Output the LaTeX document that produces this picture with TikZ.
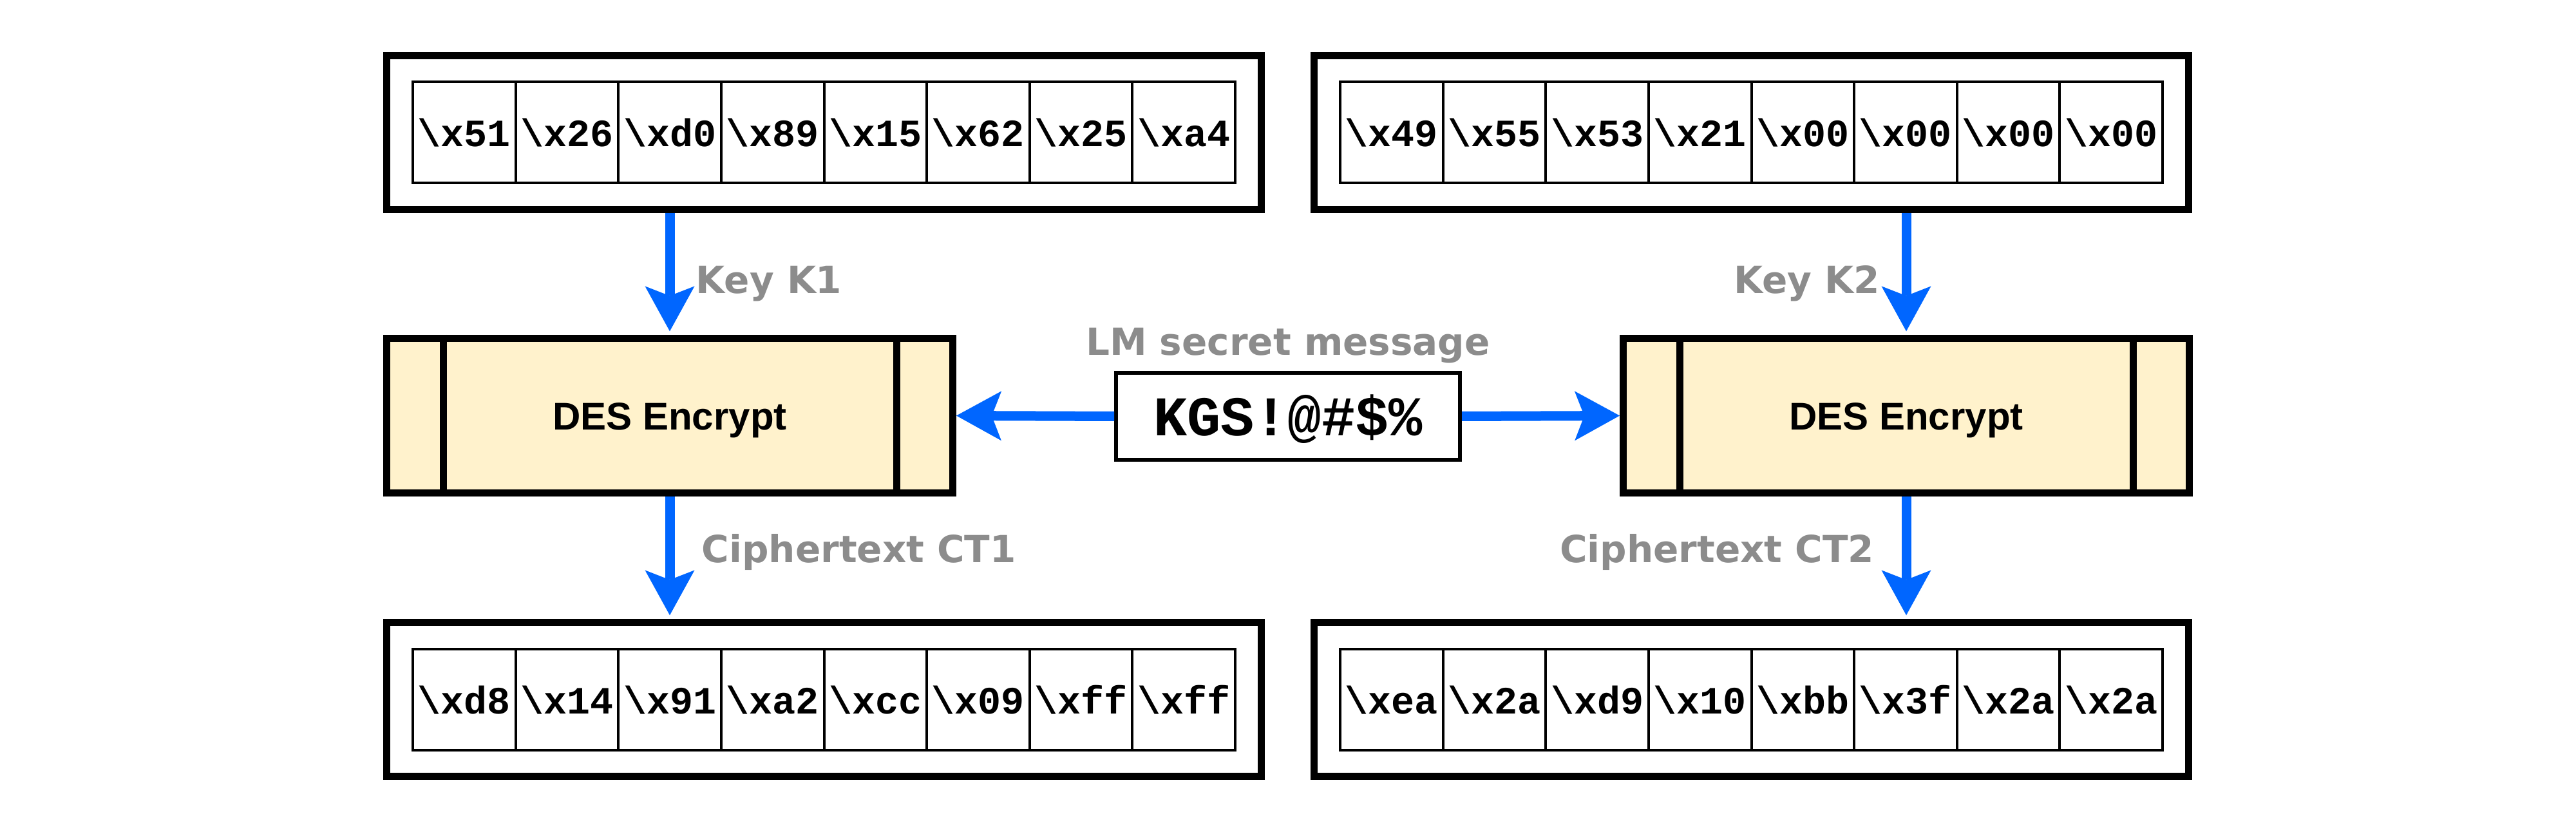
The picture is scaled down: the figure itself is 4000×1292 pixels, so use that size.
\documentclass[tikz,border=0pt]{standalone}
\usepackage{fontspec}
\usetikzlibrary{arrows.meta,calc}
\newfontfamily\hexfont{Liberation Mono}
\newfontfamily\labfont{DejaVu Sans}
\newfontfamily\desfont{Liberation Sans}
\definecolor{arrowblue}{RGB}{0,102,255}
\definecolor{labelgray}{RGB}{140,140,140}
\definecolor{desfill}{RGB}{255,242,204}
\begin{document}
\begin{tikzpicture}[x=0.25pt,y=-0.25pt,
  outerbox/.style={draw=black, line width=2.75pt, minimum width=339.5pt, minimum height=59.75pt, inner sep=0pt},
  hexcell/.style={draw=black, line width=1pt, minimum width=39.9pt, minimum height=39.25pt, inner sep=0pt,
    font=\hexfont\bfseries\fontsize{15pt}{18pt}\selectfont, text height=11.25pt, text depth=0pt},
  desbox/.style={draw=black, fill=desfill, line width=2.75pt, minimum width=219.75pt, minimum height=60pt, inner sep=0pt,
    font=\desfont\bfseries\fontsize{15pt}{18pt}\selectfont, text height=11.25pt, text depth=0pt},
  desbar/.style={draw=black, line width=2.75pt},
  msgbox/.style={draw=black, fill=white, line width=1.5pt, minimum width=133.5pt, minimum height=33.75pt, inner sep=0pt,
    font=\hexfont\bfseries\fontsize{21.75pt}{26pt}\selectfont, text height=14.75pt, text depth=0pt},
  flowlabel/.style={text=labelgray, font=\labfont\bfseries\fontsize{14.5pt}{17pt}\selectfont, inner sep=0pt},
  flow/.style={draw=arrowblue, line width=3.75pt,
    -{Stealth[length=17.5pt,width=19.25pt,inset=3.75pt,line width=0pt]}},
]
\useasboundingbox (0,0) rectangle (4000,1292);

% outer frames
\node[outerbox] (top1) at (1279.5,206) {};
\node[outerbox] (top2) at (2719.5,206) {};
\node[outerbox] (bot1) at (1279.5,1086) {};
\node[outerbox] (bot2) at (2719.5,1086) {};

% byte cells
\foreach \v [count=\i] in {51,26,d0,89,15,62,25,a4}
  \node[hexcell] (ta\i) at ({1279.5+(\i-4.5)*159.6},205.5) {\textbackslash x\v};
\foreach \v [count=\i] in {49,55,53,21,00,00,00,00}
  \node[hexcell] (tb\i) at ({2719.5+(\i-4.5)*159.6},205.5) {\textbackslash x\v};
\foreach \v [count=\i] in {d8,14,91,a2,cc,09,ff,ff}
  \node[hexcell] (ba\i) at ({1279.5+(\i-4.5)*159.6},1086) {\textbackslash x\v};
\foreach \v [count=\i] in {ea,2a,d9,10,bb,3f,2a,2a}
  \node[hexcell] (bb\i) at ({2719.5+(\i-4.5)*159.6},1086) {\textbackslash x\v};

% DES boxes
\node[desbox] (des1) at (1040,645.5) {DES Encrypt};
\node[desbox] (des2) at (2960,645.5) {DES Encrypt};
\foreach \d in {des1,des2} {
  \draw[desbar] ([xshift=-88pt]\d.north) -- ([xshift=-88pt]\d.south);
  \draw[desbar] ([xshift=88pt]\d.north) -- ([xshift=88pt]\d.south);
}

% message
\node[msgbox] (msg) at (2000,646.5) {KGS!@\#\$\%};
\node[flowlabel, anchor=base] (msglab) at (2000,552) {LM secret message};

% connectors
\draw[flow, shorten >=1.4pt] (des1 |- top1.south) -- (des1.north);
\draw[flow, shorten >=1.4pt] (des2 |- top2.south) -- (des2.north);
\draw[flow, shorten >=1.4pt] (des1.south) -- (des1 |- bot1.north);
\draw[flow, shorten >=1.4pt] (des2.south) -- (des2 |- bot2.north);
\draw[flow] (msg.west) -- (des1.east);
\draw[flow] (msg.east) -- (des2.west);

% labels
\node[flowlabel, anchor=base west] (k1) at (1080,456) {Key K1};
\node[flowlabel, anchor=base east] (k2) at (2920,456) {Key K2};
\node[flowlabel, anchor=base west] (ct1) at (1089,873) {Ciphertext CT1};
\node[flowlabel, anchor=base east] (ct2) at (2911,873) {Ciphertext CT2};
\end{tikzpicture}
\end{document}
